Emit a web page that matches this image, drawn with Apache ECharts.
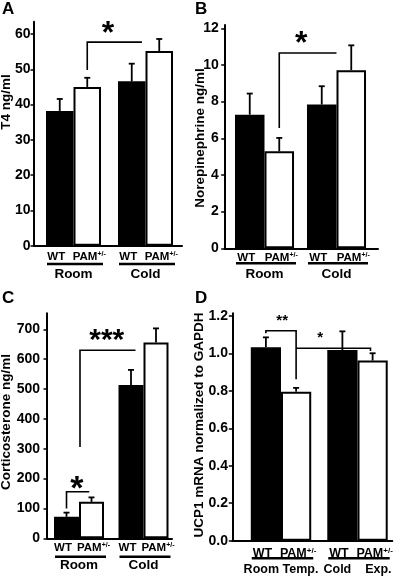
<!DOCTYPE html>
<html><head><meta charset="utf-8">
<script src="https://cdn.jsdelivr.net/npm/echarts@6/dist/echarts.min.js"></script>
<style>html,body{margin:0;padding:0;background:#fff}#c{width:406px;height:579px}</style>
</head><body><div id="c"></div>
<script>
// ---------------- data ----------------
const groupsA = ['Room', 'Cold'];
const groupsB = ['Room', 'Cold'];
const groupsC = ['Room', 'Cold'];
const groupsD = ['Room Temp.', 'Cold    Exp.'];
const genotypeLabels = ['WT', 'PAM'];
const genotypeSup = ['', '+/-'];

const t4WT = [38.2, 46.6];   const t4WTErr = [3.4, 5.0];
const t4PAM = [45.0, 55.2];  const t4PAMErr = [2.6, 3.4];
const neWT = [7.29, 7.84];   const neWTErr = [1.15, 1.0];
const nePAM = [5.29, 9.71];  const nePAMErr = [0.73, 1.36];
const corWT = [72, 513];     const corWTErr = [14, 51];
const corPAM = [122, 656];   const corPAMErr = [15, 47];
const ucpWT = [1.033, 1.018]; const ucpWTErr = [0.053, 0.100];
const ucpPAM = [0.796, 0.962]; const ucpPAMErr = [0.020, 0.039];

const ticksA = [0, 10, 20, 30, 40, 50, 60];
const ticksB = [0, 2, 4, 6, 8, 10, 12];
const ticksC = [0, 100, 200, 300, 400, 500, 600, 700];
const ticksD = [0, 0.2, 0.4, 0.6, 0.8, 1.0, 1.2];

// significance brackets: points as [category, offset in bar widths from category centre, value]
const bracketsA = [[[0, 0.5, 49.8], [0, 0.5, 57.7], [1, -0.13, 57.7]]];
const bracketsB = [[[0, 0.5, 6.56], [0, 0.5, 10.65], [1, 0, 10.65]]];
const bracketsC = [[[0, 0.04, 306], [0, 0.04, 630], [1, -0.32, 630]],
                   [[0, -0.5, 100], [0, -0.5, 156], [0, 0.41, 156]]];
const bracketsD = [[[0, -0.5, 1.108], [0, -0.5, 1.121], [0, 0.5, 1.121], [0, 0.5, 0.862]],
                   [[0, 0.5, 1.0275], [1, 0.43, 1.0275], [1, 0.43, 1.013]]];
// stars: [text, category, offset, value]
const starsA = [['*', 0, 1.25, 62.1]];
const starsB = [['*', 0, 1.24, 11.54]];
const starsC = [['***', 0, 1.11, 684], ['*', 0, -0.09, 189.5]];
const starsD = [['**', 0, 0.04, 1.189], ['*', 0, 1.30, 1.0985]];

// ---------------- layout / style ----------------
const FF = "'Liberation Sans', Arial, Helvetica, sans-serif";
const LABEL_DX = [-3.5, 2];
const panels = [
  {letter: 'A', title: 'T4 ng/ml', groups: groupsA, wt: t4WT, wtErr: t4WTErr, pam: t4PAM, pamErr: t4PAMErr,
   ticks: ticksA, brackets: bracketsA, stars: starsA,
   L: {frame: [34, 21.7, 148, 224], barsLeft: 37.5, barsWidth: 144, max: 63.5, gap: 0.236, lm: 3.5, dec: 0,
       title: [6, 102], letterPos: [2, 1], lab: 11.3, line: 18.3, gm: 22, fs: 11.5, gfs: 13.5, starFs: [32]}},
  {letter: 'B', title: 'Norepinephrine ng/ml', groups: groupsB, wt: neWT, wtErr: neWTErr, pam: nePAM, pamErr: nePAMErr,
   ticks: ticksB, brackets: bracketsB, stars: starsB,
   L: {frame: [224.7, 25, 153.3, 223.3], barsLeft: 228.5, barsWidth: 144, max: 12.18, gap: 0.18, lm: 6, dec: 0,
       title: [200, 138], letterPos: [195, 1], lab: 9.2, line: 15, gm: 18.7, fs: 11.5, gfs: 13.5, starFs: [32]}},
  {letter: 'C', title: 'Corticosterone ng/ml', groups: groupsC, wt: corWT, wtErr: corWTErr, pam: corPAM, pamErr: corPAMErr,
   ticks: ticksC, brackets: bracketsC, stars: starsC,
   L: {frame: [47, 313.3, 125, 225], barsLeft: 46.75, barsWidth: 129, max: 753.5, gap: 0.225, lm: 7, dec: 0,
       title: [6, 422], letterPos: [2, 290], lab: 9.7, line: 18.4, gm: 20.4, fs: 11.5, gfs: 13.5, starFs: [30, 34]}},
  {letter: 'D', title: 'UCP1 mRNA normalized to GAPDH', groups: groupsD, wt: ucpWT, wtErr: ucpWTErr, pam: ucpPAM, pamErr: ucpPAMErr,
   ticks: ticksD, brackets: bracketsD, stars: starsD,
   L: {frame: [232.3, 313.3, 160, 227.4], barsLeft: 242.75, barsWidth: 153, max: 1.2144, gap: 0.21, lm: 4.3, dec: 1,
       title: [199, 425], letterPos: [195, 290], lab: 12.6, line: 17.6, gm: 22.8, fs: 12.5, gfs: 12.5, starFs: [15, 15]}}
];

function geom(api, gap) {
  const c0 = api.coord([0, 0]);
  const c1 = api.coord([1, 0]);
  const band = c1[0] - c0[0];
  return {bw: band * (1 - gap) / 2, zeroY: c0[1]};
}
function pt(api, g, cat, u, val) {
  return [api.coord([cat, 0])[0] + u * g.bw, api.coord([cat, val])[1]];
}

const grid = [], xAxis = [], yAxis = [], series = [], graphic = [];
panels.forEach((P, p) => {
  const L = P.L;
  const fi = 2 * p, bi = 2 * p + 1;
  grid.push({left: L.frame[0], top: L.frame[1], width: L.frame[2], height: L.frame[3]});
  grid.push({left: L.barsLeft, top: L.frame[1], width: L.barsWidth, height: L.frame[3]});
  const step = P.ticks[1] - P.ticks[0];
  xAxis.push({gridIndex: fi, type: 'value', min: 0, max: 1,
    axisLine: {show: true, onZero: false, lineStyle: {color: '#000', width: 2}},
    axisTick: {show: false}, axisLabel: {show: false}, splitLine: {show: false}});
  yAxis.push({gridIndex: fi, type: 'value', min: 0, max: L.max, interval: step,
    axisLine: {show: true, lineStyle: {color: '#000', width: 2}},
    axisTick: {show: true, length: 3.5, inside: false, lineStyle: {color: '#000', width: 1.5}, customValues: P.ticks},
    axisLabel: {customValues: P.ticks, margin: L.lm, color: '#000', fontSize: 14, fontWeight: 'bold', fontFamily: FF,
      formatter: v => P.ticks.some(t => Math.abs(t - v) < 1e-9) ? Number(v).toFixed(L.dec) : ''},
    splitLine: {show: false}});
  xAxis.push({gridIndex: bi, type: 'category', data: P.groups,
    axisLine: {show: false}, axisTick: {show: false},
    axisLabel: {margin: L.gm, color: '#000', fontSize: L.gfs, fontWeight: 'bold', fontFamily: FF, interval: 0}});
  yAxis.push({gridIndex: bi, type: 'value', min: 0, max: L.max, show: false});

  const barBase = {type: 'bar', xAxisIndex: bi, yAxisIndex: bi, barGap: '0%',
    barCategoryGap: (L.gap * 100) + '%', silent: true, animation: false};
  series.push(Object.assign({}, barBase, {name: 'WT', data: P.wt,
    itemStyle: {color: '#000', borderColor: '#000', borderWidth: 1.5}}));
  series.push(Object.assign({}, barBase, {name: 'PAM+/-', data: P.pam,
    itemStyle: {color: '#fff', borderColor: '#000', borderWidth: 2}}));

  const errRows = [];
  P.wt.forEach((v, i) => errRows.push([i, 0, v, P.wtErr[i]]));
  P.pam.forEach((v, i) => errRows.push([i, 1, v, P.pamErr[i]]));
  series.push({type: 'custom', xAxisIndex: bi, yAxisIndex: bi, data: errRows, encode: {x: 0, y: 2},
    silent: true, animation: false, z: 3,
    renderItem: (params, api) => {
      const g = geom(api, L.gap);
      const cat = api.value(0), b = api.value(1), v = api.value(2), e = api.value(3);
      const top = pt(api, g, cat, b - 0.5, v);
      const cap = pt(api, g, cat, b - 0.5, v + e);
      return {type: 'group', children: [
        {type: 'line', shape: {x1: top[0], y1: top[1], x2: cap[0], y2: cap[1]}, style: {stroke: '#000', lineWidth: 1.8}},
        {type: 'line', shape: {x1: cap[0] - 3, y1: cap[1], x2: cap[0] + 3, y2: cap[1]}, style: {stroke: '#000', lineWidth: 1.8}}
      ]};
    }});

  series.push({type: 'custom', xAxisIndex: bi, yAxisIndex: bi, data: [[0, 0]], encode: {x: 0, y: 1},
    silent: true, animation: false, z: 4,
    renderItem: (params, api) => {
      const g = geom(api, L.gap);
      const ch = [];
      P.brackets.forEach(br => {
        ch.push({type: 'polyline', shape: {points: br.map(q => pt(api, g, q[0], q[1], q[2]))},
          style: {stroke: '#000', lineWidth: 1.6, fill: null}});
      });
      P.stars.forEach((s, k) => {
        const fsz = L.starFs[k];
        const c = pt(api, g, s[1], s[2], s[3]);
        ch.push({type: 'text', x: c[0], y: c[1] + 0.22 * fsz, style: {text: s[0], fill: '#000',
          font: 'bold ' + fsz + 'px ' + FF, align: 'center', verticalAlign: 'middle'}});
      });
      P.groups.forEach((gname, cat) => {
        genotypeLabels.forEach((lab, b) => {
          const c = pt(api, g, cat, b - 0.5, 0);
          const txt = genotypeSup[b] ? '{m|' + lab + '}{s|' + genotypeSup[b] + '}' : '{m|' + lab + '}';
          ch.push({type: 'text', x: c[0] + LABEL_DX[b], y: g.zeroY + L.lab, style: {text: txt,
            rich: {m: {fontSize: L.fs, fontWeight: 'bold', fontFamily: FF, fill: '#000'},
                   s: {fontSize: Math.round(L.fs * 0.62), fontWeight: 'bold', fontFamily: FF, fill: '#000', verticalAlign: 'top'}},
            align: 'center', verticalAlign: 'middle'}});
        });
        const a = pt(api, g, cat, -1, 0), z = pt(api, g, cat, 1, 0);
        ch.push({type: 'line', shape: {x1: a[0] + 1, y1: g.zeroY + L.line, x2: z[0] + 2, y2: g.zeroY + L.line},
          style: {stroke: '#000', lineWidth: 2.5}});
      });
      return {type: 'group', children: ch};
    }});

  graphic.push({type: 'text', left: L.letterPos[0], top: L.letterPos[1],
    style: {text: P.letter, font: 'bold 17px ' + FF, fill: '#000'}});
  graphic.push({type: 'text', x: L.title[0], y: L.title[1], rotation: Math.PI / 2,
    style: {text: P.title, font: 'bold 13.5px ' + FF, fill: '#000', align: 'center', verticalAlign: 'middle'}});
});

const chart = echarts.init(document.getElementById('c'), null, {renderer: 'canvas'});
chart.setOption({animation: false, backgroundColor: '#fff', textStyle: {fontFamily: FF},
  grid, xAxis, yAxis, series, graphic});
</script></body></html>
